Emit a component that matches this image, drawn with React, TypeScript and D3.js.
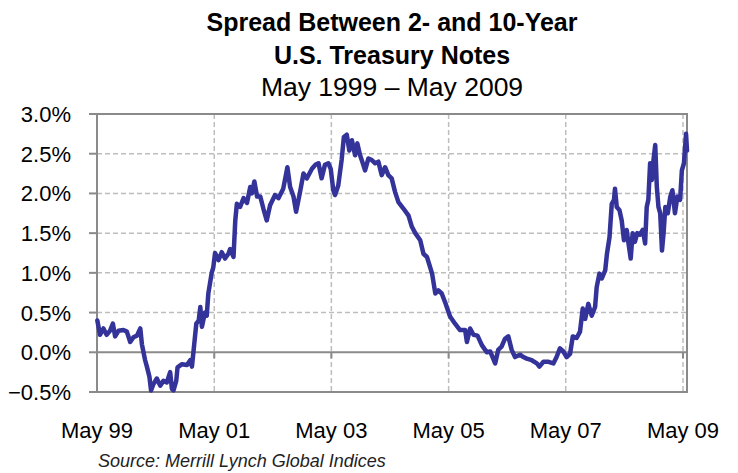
import React from "react";
import * as d3 from "d3";

const dates: string[] = [
  "1999-05-03","1999-05-20","1999-06-10","1999-06-30","1999-07-21","1999-08-08","1999-08-22","1999-09-12","1999-10-13","1999-11-03",
  "1999-11-24","1999-12-14","2000-01-05","2000-01-26","2000-02-05","2000-02-25","2000-03-07","2000-03-23","2000-04-02","2000-04-17",
  "2000-05-08","2000-05-29","2000-06-18","2000-07-09","2000-07-30","2000-08-10","2000-08-20","2000-09-06","2000-09-14","2000-10-12",
  "2000-11-12","2000-12-02","2000-12-13","2000-12-23","2001-01-09","2001-01-24","2001-02-03","2001-02-13","2001-03-04","2001-03-15",
  "2001-03-25","2001-04-15","2001-04-25","2001-05-06","2001-05-27","2001-06-17","2001-07-07","2001-07-28","2001-08-08","2001-08-29",
  "2001-09-09","2001-09-19","2001-10-09","2001-10-31","2001-11-21","2001-12-11","2001-12-22","2002-01-06","2002-01-23","2002-02-12",
  "2002-03-03","2002-03-24","2002-04-14","2002-05-15","2002-06-05","2002-07-05","2002-07-31","2002-08-17","2002-09-07","2002-09-23",
  "2002-10-18","2002-11-08","2002-11-29","2002-12-31","2003-01-21","2003-02-10","2003-03-01","2003-03-22","2003-04-12","2003-04-27",
  "2003-05-13","2003-05-24","2003-06-13","2003-07-04","2003-07-18","2003-08-05","2003-08-21","2003-09-06","2003-09-26","2003-10-10",
  "2003-10-27","2003-11-13","2003-11-27","2003-12-18","2004-01-08","2004-01-29","2004-02-18","2004-03-10","2004-03-31","2004-04-20",
  "2004-05-11","2004-06-01","2004-06-22","2004-07-23","2004-08-24","2004-09-14","2004-10-05","2004-11-05","2004-11-25","2004-12-17",
  "2005-01-18","2005-02-07","2005-02-26","2005-03-19","2005-04-09","2005-05-10","2005-06-10","2005-07-11","2005-08-12","2005-08-23",
  "2005-09-12","2005-10-03","2005-10-28","2005-11-24","2005-12-25","2006-01-15","2006-02-15","2006-03-06","2006-03-27","2006-04-17",
  "2006-05-08","2006-05-29","2006-06-19","2006-07-20","2006-08-10","2006-08-31","2006-10-01","2006-11-02","2006-11-18","2006-12-13",
  "2007-01-14","2007-02-13","2007-03-05","2007-03-26","2007-04-16","2007-05-07","2007-05-28","2007-06-14","2007-07-08","2007-07-29",
  "2007-08-15","2007-08-30","2007-09-19","2007-10-10","2007-10-31","2007-11-10","2007-11-27","2007-12-12","2008-01-02","2008-01-13",
  "2008-01-29","2008-02-12","2008-02-26","2008-03-03","2008-03-14","2008-03-31","2008-04-14","2008-04-28","2008-05-15","2008-05-25",
  "2008-06-09","2008-06-21","2008-07-05","2008-07-20","2008-08-06","2008-08-23","2008-09-07","2008-09-17","2008-09-27","2008-10-08",
  "2008-10-19","2008-10-29","2008-11-09","2008-11-19","2008-11-29","2008-12-10","2008-12-21","2008-12-31","2009-01-11","2009-01-26",
  "2009-02-11","2009-02-24","2009-03-12","2009-03-27","2009-04-13","2009-04-24","2009-05-07","2009-05-20","2009-05-26"
];

const spread: number[] = [
  0.40,0.22,0.30,0.22,0.27,0.36,0.20,0.27,0.28,0.26,
  0.13,0.19,0.21,0.30,0.10,-0.10,-0.18,-0.31,-0.48,-0.40,
  -0.33,-0.42,-0.36,-0.38,-0.25,-0.46,-0.48,-0.36,-0.19,-0.15,
  -0.16,-0.10,-0.18,0.02,0.36,0.40,0.57,0.32,0.50,0.46,
  0.74,1.00,1.07,1.25,1.16,1.26,1.18,1.24,1.30,1.20,
  1.66,1.87,1.83,1.94,1.88,2.08,2.00,2.15,1.96,1.96,
  1.81,1.66,1.85,1.98,1.94,2.06,2.33,2.08,1.96,1.77,
  2.02,2.25,2.19,2.31,2.36,2.38,2.19,2.36,2.38,2.31,
  2.04,1.98,2.10,2.42,2.71,2.74,2.54,2.67,2.48,2.63,
  2.48,2.38,2.29,2.44,2.42,2.38,2.40,2.23,2.33,2.23,
  2.19,2.02,1.89,1.81,1.72,1.58,1.50,1.41,1.24,1.20,
  0.99,0.74,0.78,0.74,0.63,0.45,0.36,0.28,0.28,0.13,
  0.30,0.22,0.21,0.09,0.00,0.01,-0.14,0.03,0.07,0.17,
  0.20,0.03,-0.06,-0.03,-0.06,-0.08,-0.10,-0.14,-0.18,-0.12,
  -0.12,-0.14,-0.06,0.05,0.01,-0.06,-0.02,0.20,0.18,0.26,
  0.55,0.42,0.61,0.46,0.57,0.82,0.99,0.93,1.03,1.24,
  1.45,1.87,1.92,2.06,1.83,1.79,1.66,1.41,1.54,1.39,
  1.18,1.50,1.39,1.50,1.48,1.54,1.37,1.83,1.92,2.38,
  2.17,2.42,2.61,2.08,1.83,1.75,1.28,1.50,1.83,1.75,
  1.96,2.04,1.75,1.96,1.92,2.29,2.38,2.75,2.54
];

const yTicks: number[] = [-0.5, 0, 0.5, 1.0, 1.5, 2.0, 2.5, 3.0];
const xTickDates: string[] = ["1999-05-01","2001-05-01","2003-05-01","2005-05-01","2007-05-01","2009-05-01"];
const xTickLabels: string[] = ["May 99","May 01","May 03","May 05","May 07","May 09"];
const titleLines: string[] = ["Spread Between 2- and 10-Year", "U.S. Treasury Notes"];
const subtitle = "May 1999 \u2013 May 2009";
const source = "Source: Merrill Lynch Global Indices";

const W = 738, H = 473;
const L = 97, R = 687, T = 114, B = 392;

export default function App() {
  const parse = d3.timeParse("%Y-%m-%d");
  const x = d3.scaleTime()
    .domain([parse("1999-05-01") as Date, parse("2009-05-26") as Date])
    .range([L, R]);
  const y = d3.scaleLinear().domain([-0.5, 3.0]).range([B, T]);
  const data = dates.map((d, i) => ({ date: parse(d) as Date, v: spread[i] }));
  const line = d3.line<{ date: Date; v: number }>()
    .x(d => x(d.date))
    .y(d => y(d.v));
  const font = "Arial, 'Liberation Sans', Helvetica, sans-serif";
  const gridColor = "#bdbdbd";
  const axisColor = "#8a8a8a";

  return (
    <svg width={W} height={H} style={{ position: "absolute", left: 0, top: 0, background: "#fff" }} fontFamily={font}>
      <rect x={0} y={0} width={W} height={H} fill="#fff" />
      {/* title */}
      <text x={392} y={31} textAnchor="middle" fontWeight="bold" fontSize={25} fill="#000">{titleLines[0]}</text>
      <text x={392} y={64} textAnchor="middle" fontWeight="bold" fontSize={25} fill="#000">{titleLines[1]}</text>
      <text x={392} y={96} textAnchor="middle" fontSize={26.5} fill="#000">{subtitle}</text>

      {/* horizontal grid */}
      {yTicks.filter(t => t !== 0 && t !== -0.5 && t !== 3.0).map(t => (
        <line key={"hg" + t} x1={L} x2={R} y1={y(t)} y2={y(t)} stroke={gridColor} strokeWidth={1.5} strokeDasharray="5,3" />
      ))}
      {/* vertical grid */}
      {xTickDates.slice(1).map(d => (
        <line key={"vg" + d} x1={x(parse(d) as Date)} x2={x(parse(d) as Date)} y1={T} y2={B} stroke={gridColor} strokeWidth={1.5} strokeDasharray="5,3" />
      ))}
      {/* y tick marks */}
      {yTicks.map(t => (
        <line key={"yt" + t} x1={L - 8} x2={L} y1={y(t)} y2={y(t)} stroke={axisColor} strokeWidth={2} />
      ))}
      {/* zero line */}
      <line x1={L} x2={R} y1={y(0)} y2={y(0)} stroke={axisColor} strokeWidth={2} />
      {/* x tick marks at zero line */}
      {xTickDates.map(d => (
        <line key={"xt" + d} x1={x(parse(d) as Date)} x2={x(parse(d) as Date)} y1={y(0)} y2={y(0) + 6} stroke={axisColor} strokeWidth={2} />
      ))}
      {/* plot border */}
      <rect x={L} y={T} width={R - L} height={B - T} fill="none" stroke={axisColor} strokeWidth={2} />

      {/* data line */}
      <path d={line(data) || ""} fill="none" stroke="#333399" strokeWidth={4.5} strokeLinejoin="round" strokeLinecap="round" />

      {/* y labels */}
      {yTicks.map(t => (
        <text key={"yl" + t} x={71} y={y(t) + 8} textAnchor="end" fontSize={22} fill="#000">{d3.format(".1f")(t) + "%"}</text>
      ))}
      {/* x labels */}
      {xTickDates.map((d, i) => (
        <text key={"xl" + d} x={x(parse(d) as Date)} y={438} textAnchor="middle" fontSize={22} fill="#000">{xTickLabels[i]}</text>
      ))}
      {/* source */}
      <text x={98} y={467} fontSize={18} fontStyle="italic" fill="#222">{source}</text>
    </svg>
  );
}
